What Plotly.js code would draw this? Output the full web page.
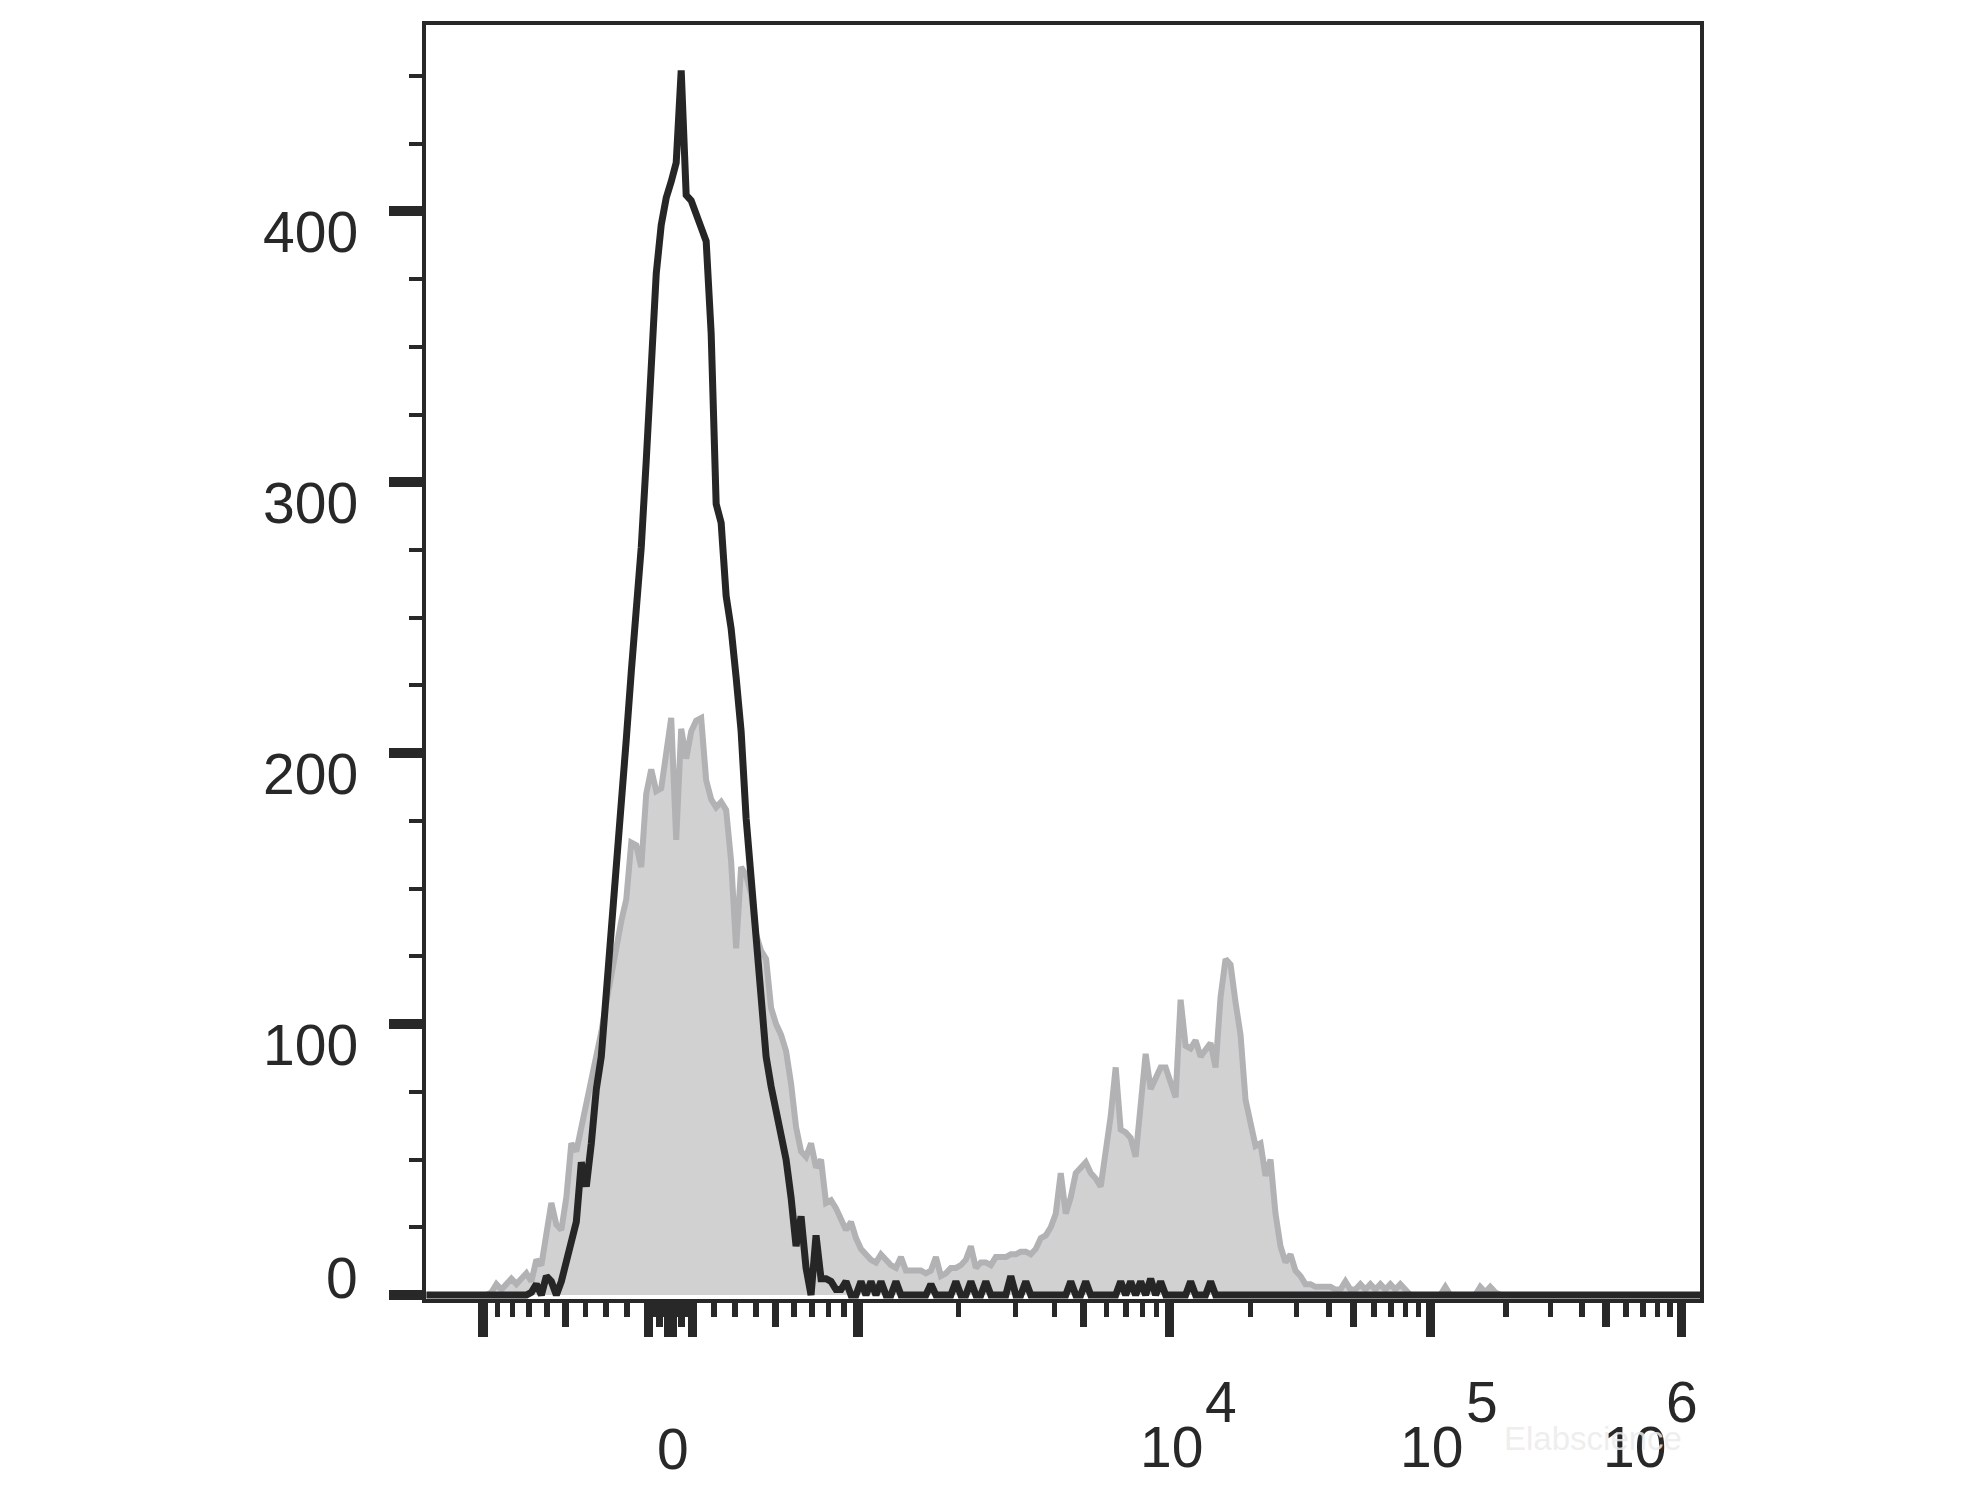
<!DOCTYPE html>
<html>
<head>
<meta charset="utf-8">
<script src="https://cdn.plot.ly/plotly-3.0.1.min.js"></script>
<style>
html,body{margin:0;padding:0;background:#ffffff;}
#chart{width:1984px;height:1488px;}
</style>
</head>
<body>
<div id="chart"></div>
<script>
// ---------------- DATA ----------------
// Histogram counts per display channel (256 channels across the biexponential axis)
const blackCounts = [
  0,0,0,0,0,0,0,0,0,0,0,0,0,0,0,0,
  0,0,0,0,0,1,4,0,7,5,0,5,12,20,27,49,
  40,56,76,88,110,132,158,180,205,230,252,276,308,342,377,395,
  405,411,418,452,406,404,398,394,389,355,292,285,258,246,228,208,
  176,152,130,108,88,77,68,60,50,36,18,29,10,0,22,6,
  6,5,2,2,5,0,0,5,0,5,0,5,0,0,5,0,
  0,0,0,0,0,4,0,0,0,0,5,0,0,5,0,0,
  5,0,0,0,0,7,0,0,5,0,0,0,0,0,0,0,
  0,5,0,0,5,0,0,0,0,0,0,5,0,5,0,5,
  0,6,0,5,0,0,0,0,0,5,0,0,0,5,0,0,
  0,0,0,0,0,0,0,0,0,0,0,0,0,0,0,0,
  0,0,0,0,0,0,0,0,0,0,0,0,0,0,0,0,
  0,0,0,0,0,0,0,0,0,0,0,0,0,0,0,0,
  0,0,0,0,0,0,0,0,0,0,0,0,0,0,0,0,
  0,0,0,0,0,0,0,0,0,0,0,0,0,0,0,0,
  0,0,0,0,0,0,0,0,0,0,0,0,0,0,0,0
];
const grayCounts = [
  0,0,0,0,0,0,0,0,0,0,0,0,0,1,4,2,
  4,6,4,6,8,5,13,11,24,34,26,24,36,56,53,62,
  70,78,88,97,108,118,130,138,146,167,166,158,185,194,186,187,
  200,213,168,209,198,208,212,213,190,183,180,182,179,160,128,158,
  155,148,133,127,124,106,100,96,90,78,62,53,51,56,47,50,
  34,35,32,28,24,27,21,17,15,13,12,15,13,11,10,14,
  9,9,9,9,8,9,14,7,8,10,10,11,13,18,10,12,
  12,11,14,14,14,15,15,16,16,15,17,21,22,25,30,45,
  30,36,45,47,49,45,43,40,52,66,84,61,60,58,51,70,
  89,76,80,84,84,78,73,109,92,91,94,88,91,93,84,110,
  124,122,108,96,72,62,55,56,44,50,30,18,12,15,9,7,
  4,4,3,3,3,3,2,2,5,2,2,4,2,4,2,4,
  2,4,2,4,2,0,0,0,0,0,0,0,3,0,0,0,
  0,0,0,3,1,3,1,0,0,0,0,0,0,0,0,0,
  0,0,0,0,0,0,0,0,0,0,0,0,0,0,0,0,
  0,0,0,0,0,0,0,0,0,0,0,0,0,0,0,0
];

// Axis tick values (fluorescence units) on the biexponential scale
const majorTickValues = [-1000, -100, -10, 0, 10, 100, 1000, 10000, 100000, 1000000];
const midTickValues = [-500, -50, 50, 500, 5000, 50000, 500000];
const minorTickValues = [
  -900,-800,-700,-600,-400,-300,-200,
  -90,-80,-70,-60,-40,-30,-20,
  20,30,40,60,70,80,90,
  200,300,400,600,700,800,900,
  2000,3000,4000,6000,7000,8000,9000,
  20000,30000,40000,60000,70000,80000,90000,
  200000,300000,400000,600000,700000,800000,900000
];
const xZeroLabel = '0';
const xDecadeValues = [10000, 100000, 1000000];
const xDecadeBase = ['10', '10', '10'];
const xDecadeExponents = ['4', '5', '6'];
const yTickLabels = [0, 100, 200, 300, 400];
const watermarkText = 'Elabscience';

// ---------------- SCALE (logicle-type biexponential display) ----------------
const LOGICLE_K = 90.2, LOGICLE_P = 4.5;
const ZERO_CH = 49.36, CH_PER_DECADE = 50.06;
function logicleValue(z) {
  const a = Math.abs(z), p2 = LOGICLE_P * LOGICLE_P;
  const v = LOGICLE_K * (Math.pow(10, a) - p2 * Math.pow(10, -a / LOGICLE_P) + p2 - 1);
  return z < 0 ? -v : v;
}
function valueToChannel(v) {
  let lo = -4, hi = 7;
  for (let k = 0; k < 90; k++) {
    const mid = (lo + hi) / 2;
    if (logicleValue(mid) < v) lo = mid; else hi = mid;
  }
  return ZERO_CH + CH_PER_DECADE * (lo + hi) / 2;
}
const channels = blackCounts.map((_, i) => i + 0.5);

// ---------------- STYLE ----------------
const INK = '#282828';
const FONT = 'Liberation Sans, Arial, Helvetica, sans-serif';
const XRANGE = [0.4, 255.5];
const YRANGE = [-1.48, 468.8];

const traces = [
  {
    x: channels, y: grayCounts, type: 'scatter', mode: 'lines',
    line: {color: '#b2b2b4', width: 6, shape: 'linear'},
    fill: 'tozeroy', fillcolor: '#d1d1d1',
    hoverinfo: 'skip', showlegend: false
  },
  {
    x: channels, y: blackCounts, type: 'scatter', mode: 'lines',
    line: {color: '#262626', width: 7, shape: 'linear'},
    hoverinfo: 'skip', showlegend: false
  },
  {x: [], y: [], xaxis: 'x2', yaxis: 'y', type: 'scatter', mode: 'lines', showlegend: false, hoverinfo: 'skip'},
  {x: [], y: [], xaxis: 'x3', yaxis: 'y', type: 'scatter', mode: 'lines', showlegend: false, hoverinfo: 'skip'}
];

const annotations = [];
// y tick labels
yTickLabels.forEach(v => {
  annotations.push({
    text: String(v), xref: 'paper', x: 0, xanchor: 'right', xshift: -66,
    yref: 'y', y: v, yanchor: 'middle', yshift: v === 0 ? 17 : -21,
    showarrow: false, font: {family: FONT, size: 57, color: INK}
  });
});
// x zero label
annotations.push({
  text: xZeroLabel, xref: 'x', x: valueToChannel(0), xanchor: 'center', xshift: 2,
  yref: 'paper', y: 0, yanchor: 'middle', yshift: -150,
  showarrow: false, font: {family: FONT, size: 57, color: INK}
});
// decade labels (full-size raised exponent)
const baseShift = [2, 1, -47.5];
const expShift = [52, 52, 0.5];
xDecadeValues.forEach((v, k) => {
  const ch = valueToChannel(v);
  annotations.push({
    text: xDecadeBase[k], xref: 'x', x: ch, xanchor: 'center', xshift: baseShift[k],
    yref: 'paper', y: 0, yanchor: 'middle', yshift: -148,
    showarrow: false, font: {family: FONT, size: 57, color: INK}
  });
  annotations.push({
    text: xDecadeExponents[k], xref: 'x', x: ch, xanchor: 'center', xshift: expShift[k],
    yref: 'paper', y: 0, yanchor: 'middle', yshift: -103,
    showarrow: false, font: {family: FONT, size: 57, color: INK}
  });
});
// faint watermark
annotations.push({
  text: watermarkText, xref: 'paper', x: (1593 - 426) / 1274, xanchor: 'center',
  yref: 'paper', y: -(1438 - 1299) / 1274, yanchor: 'middle',
  showarrow: false, font: {family: FONT, size: 33, color: 'rgba(236,236,236,0.85)'}
});

const xCommon = {
  range: XRANGE, showgrid: false, zeroline: false, showticklabels: false,
  showline: true, linewidth: 4, linecolor: INK, ticks: 'outside', tickcolor: INK,
  tickmode: 'array', fixedrange: true
};

const layout = {
  width: 1984, height: 1488,
  margin: {l: 426, r: 284, t: 25, b: 189, pad: 0},
  paper_bgcolor: '#ffffff', plot_bgcolor: '#ffffff',
  showlegend: false,
  xaxis: Object.assign({}, xCommon, {
    mirror: true,
    tickvals: majorTickValues.map(valueToChannel), ticklen: 34, tickwidth: 9.5
  }),
  xaxis2: Object.assign({}, xCommon, {
    overlaying: 'x', anchor: 'y', side: 'bottom',
    tickvals: midTickValues.map(valueToChannel), ticklen: 24, tickwidth: 7.5
  }),
  xaxis3: Object.assign({}, xCommon, {
    overlaying: 'x', anchor: 'y', side: 'bottom',
    tickvals: minorTickValues.map(valueToChannel), ticklen: 14, tickwidth: 5.5
  }),
  yaxis: {
    range: YRANGE, showgrid: false, zeroline: false, showticklabels: false,
    showline: true, mirror: true, linewidth: 4, linecolor: INK,
    ticks: 'outside', tickmode: 'linear', tick0: 0, dtick: 100,
    ticklen: 33, tickwidth: 10, tickcolor: INK, fixedrange: true,
    minor: {ticks: 'outside', tick0: 0, dtick: 25, ticklen: 13, tickwidth: 4, tickcolor: INK, showgrid: false}
  },
  annotations: annotations
};

Plotly.newPlot('chart', traces, layout, {displayModeBar: false, staticPlot: true});
</script>
</body>
</html>
